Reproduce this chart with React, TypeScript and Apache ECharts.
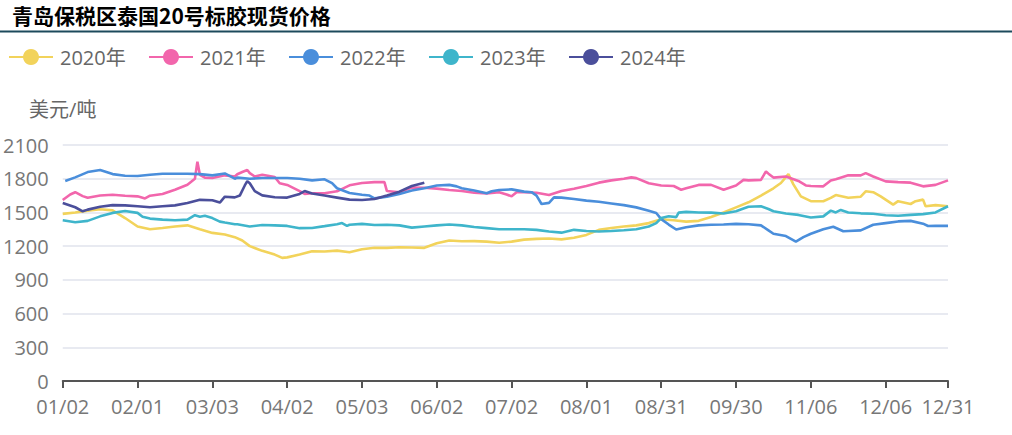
import React, { useEffect, useRef } from "react";
import * as echarts from "echarts";

const TITLE = "青岛保税区泰国20号标胶现货价格";
const Y_NAME = "美元/吨";
const seriesNames = ["2020年", "2021年", "2022年", "2023年", "2024年"];
const seriesColors = ["#F2D35B", "#F266AC", "#4A8EDB", "#3FB5CB", "#4B4F9B"];

const monthLengths = [31, 28, 31, 30, 31, 30, 31, 31, 30, 31, 30, 31];
const excludedDays = ["01/01", "05/01", "10/01", "10/02", "10/03", "10/04", "10/05", "10/06", "10/07"];
const labelEvery = 30;

const categories: string[] = [];
monthLengths.forEach((len, m) => {
  for (let d = 1; d <= len; d++) {
    const s = String(m + 1).padStart(2, "0") + "/" + String(d).padStart(2, "0");
    if (!excludedDays.includes(s)) categories.push(s);
  }
});

const s2020: [string, number][] = [
  ["01/02", 1487], ["01/07", 1499], ["01/12", 1516], ["01/17", 1528], ["01/22", 1518], ["01/27", 1450],
  ["02/01", 1375], ["02/06", 1350], ["02/11", 1362], ["02/16", 1375], ["02/21", 1385], ["02/26", 1350],
  ["03/03", 1318], ["03/08", 1303], ["03/12", 1280], ["03/15", 1250], ["03/18", 1200], ["03/23", 1158],
  ["03/28", 1125], ["03/31", 1096], ["04/02", 1100], ["04/07", 1125], ["04/12", 1155], ["04/17", 1152],
  ["04/22", 1160], ["04/27", 1145], ["05/03", 1172], ["05/08", 1185], ["05/13", 1185], ["05/18", 1190],
  ["05/23", 1188], ["05/28", 1185], ["06/02", 1225], ["06/07", 1250], ["06/12", 1244], ["06/17", 1245],
  ["06/22", 1240], ["06/27", 1230], ["07/02", 1240], ["07/07", 1258], ["07/12", 1265], ["07/17", 1268],
  ["07/22", 1260], ["07/27", 1275], ["08/01", 1300], ["08/06", 1345], ["08/11", 1362], ["08/16", 1375],
  ["08/21", 1385], ["08/26", 1405], ["08/31", 1440], ["09/05", 1430], ["09/10", 1418], ["09/15", 1425],
  ["09/20", 1460], ["09/25", 1500], ["09/30", 1545], ["10/12", 1590], ["10/17", 1650], ["10/22", 1715],
  ["10/25", 1762], ["10/28", 1841], ["10/30", 1750], ["11/02", 1643], ["11/06", 1600], ["11/11", 1600],
  ["11/14", 1629], ["11/16", 1655], ["11/21", 1630], ["11/26", 1640], ["11/28", 1688], ["12/01", 1680],
  ["12/04", 1643], ["12/09", 1569], ["12/11", 1600], ["12/16", 1575], ["12/18", 1600], ["12/21", 1614],
  ["12/22", 1555], ["12/26", 1565], ["12/31", 1555],
];

const s2021: [string, number][] = [
  ["01/02", 1610], ["01/05", 1660], ["01/07", 1680], ["01/10", 1645], ["01/12", 1630], ["01/17", 1650],
  ["01/22", 1658], ["01/27", 1649], ["02/01", 1643], ["02/04", 1625], ["02/06", 1649], ["02/11", 1664],
  ["02/16", 1702], ["02/21", 1747], ["02/24", 1800], ["02/25", 1952], ["02/26", 1835], ["02/28", 1810],
  ["03/03", 1806], ["03/08", 1830], ["03/12", 1820], ["03/13", 1840], ["03/15", 1860], ["03/17", 1878],
  ["03/18", 1850], ["03/20", 1820], ["03/23", 1835], ["03/28", 1815], ["03/30", 1760], ["04/02", 1745],
  ["04/07", 1690], ["04/09", 1665], ["04/12", 1670], ["04/17", 1670], ["04/22", 1688], ["04/27", 1741],
  ["05/03", 1762], ["05/08", 1770], ["05/12", 1770], ["05/13", 1690], ["05/18", 1680], ["05/23", 1722],
  ["05/28", 1720], ["06/02", 1712], ["06/07", 1700], ["06/12", 1690], ["06/17", 1675], ["06/22", 1668],
  ["06/27", 1680], ["06/30", 1660], ["07/02", 1643], ["07/04", 1680], ["07/07", 1680], ["07/12", 1675],
  ["07/17", 1655], ["07/22", 1690], ["07/27", 1710], ["08/01", 1735], ["08/06", 1765], ["08/11", 1785],
  ["08/16", 1800], ["08/19", 1812], ["08/21", 1805], ["08/26", 1760], ["08/31", 1740], ["09/05", 1735],
  ["09/08", 1702], ["09/10", 1715], ["09/15", 1745], ["09/20", 1745], ["09/25", 1702], ["09/30", 1740],
  ["10/10", 1790], ["10/12", 1785], ["10/17", 1790], ["10/19", 1865], ["10/20", 1845], ["10/22", 1810],
  ["10/27", 1820], ["11/01", 1780], ["11/04", 1740], ["11/06", 1735], ["11/11", 1732], ["11/14", 1785],
  ["11/16", 1795], ["11/21", 1830], ["11/26", 1830], ["11/28", 1850], ["12/01", 1820], ["12/06", 1776],
  ["12/11", 1770], ["12/16", 1765], ["12/21", 1732], ["12/26", 1745], ["12/31", 1785],
];

const s2022: [string, number][] = [
  ["01/03", 1780], ["01/07", 1812], ["01/12", 1859], ["01/17", 1877], ["01/22", 1841], ["01/27", 1827],
  ["02/01", 1824], ["02/06", 1835], ["02/11", 1844], ["02/16", 1844], ["02/21", 1844], ["02/26", 1841],
  ["03/03", 1830], ["03/08", 1847], ["03/12", 1800], ["03/13", 1810], ["03/18", 1800], ["03/23", 1806],
  ["03/28", 1806], ["04/02", 1806], ["04/07", 1800], ["04/12", 1785], ["04/17", 1795], ["04/20", 1760],
  ["04/22", 1715], ["04/27", 1673], ["05/03", 1658], ["05/06", 1650], ["05/08", 1625], ["05/13", 1640],
  ["05/18", 1665], ["05/23", 1695], ["05/28", 1715], ["06/02", 1740], ["06/07", 1745], ["06/10", 1732],
  ["06/12", 1715], ["06/17", 1695], ["06/22", 1670], ["06/24", 1688], ["06/27", 1700], ["07/02", 1705],
  ["07/07", 1685], ["07/10", 1680], ["07/12", 1650], ["07/14", 1575], ["07/17", 1585], ["07/19", 1634],
  ["07/22", 1632], ["07/27", 1620], ["08/01", 1605], ["08/06", 1595], ["08/11", 1580], ["08/16", 1565],
  ["08/21", 1545], ["08/26", 1515], ["08/29", 1495], ["08/31", 1440], ["09/03", 1392], ["09/06", 1348],
  ["09/10", 1368], ["09/15", 1385], ["09/20", 1390], ["09/25", 1392], ["09/30", 1398], ["10/12", 1395],
  ["10/17", 1385], ["10/20", 1340], ["10/22", 1310], ["10/27", 1290], ["10/31", 1240], ["11/03", 1280],
  ["11/06", 1310], ["11/11", 1350], ["11/15", 1373], ["11/19", 1333], ["11/21", 1335], ["11/26", 1340],
  ["12/01", 1390], ["12/06", 1405], ["12/11", 1420], ["12/16", 1425], ["12/21", 1400], ["12/23", 1379],
  ["12/26", 1380], ["12/31", 1380],
];

const s2023: [string, number][] = [
  ["01/02", 1430], ["01/07", 1413], ["01/12", 1425], ["01/17", 1465], ["01/22", 1496], ["01/27", 1512],
  ["02/01", 1496], ["02/03", 1462], ["02/06", 1445], ["02/11", 1436], ["02/16", 1430], ["02/21", 1436],
  ["02/24", 1475], ["02/26", 1462], ["02/28", 1470], ["03/03", 1450], ["03/06", 1418], ["03/08", 1410],
  ["03/12", 1395], ["03/13", 1395], ["03/18", 1375], ["03/23", 1388], ["03/28", 1385], ["04/02", 1380],
  ["04/07", 1360], ["04/12", 1362], ["04/17", 1378], ["04/22", 1395], ["04/24", 1405], ["04/26", 1380],
  ["04/27", 1390], ["05/03", 1398], ["05/08", 1388], ["05/13", 1390], ["05/18", 1385], ["05/23", 1365],
  ["05/28", 1375], ["06/02", 1385], ["06/07", 1392], ["06/12", 1385], ["06/17", 1370], ["06/22", 1360],
  ["06/27", 1350], ["07/02", 1350], ["07/07", 1350], ["07/12", 1345], ["07/17", 1330], ["07/22", 1320],
  ["07/27", 1345], ["08/01", 1335], ["08/06", 1330], ["08/11", 1335], ["08/16", 1342], ["08/21", 1350],
  ["08/26", 1375], ["08/29", 1405], ["08/31", 1450], ["09/03", 1466], ["09/06", 1458], ["09/07", 1498],
  ["09/10", 1505], ["09/15", 1500], ["09/20", 1498], ["09/25", 1490], ["09/30", 1510], ["10/10", 1535],
  ["10/12", 1550], ["10/17", 1555], ["10/20", 1530], ["10/22", 1510], ["10/27", 1490], ["11/01", 1478],
  ["11/06", 1455], ["11/11", 1465], ["11/14", 1516], ["11/16", 1500], ["11/18", 1522], ["11/21", 1500],
  ["11/26", 1492], ["12/01", 1488], ["12/06", 1475], ["12/11", 1470], ["12/16", 1478], ["12/21", 1485],
  ["12/26", 1500], ["12/31", 1555],
];

const s2024: [string, number][] = [
  ["01/02", 1584], ["01/07", 1546], ["01/10", 1510], ["01/12", 1525], ["01/17", 1550], ["01/22", 1565],
  ["01/27", 1563], ["02/01", 1555], ["02/06", 1546], ["02/11", 1555], ["02/16", 1563], ["02/21", 1584],
  ["02/26", 1612], ["03/03", 1608], ["03/06", 1588], ["03/08", 1640], ["03/12", 1634], ["03/14", 1650],
  ["03/16", 1740], ["03/17", 1778], ["03/18", 1760], ["03/20", 1690], ["03/23", 1652], ["03/28", 1635],
  ["04/02", 1632], ["04/07", 1665], ["04/09", 1690], ["04/12", 1668], ["04/17", 1650], ["04/22", 1632],
  ["04/27", 1614], ["05/03", 1610], ["05/08", 1620], ["05/13", 1650], ["05/18", 1685], ["05/23", 1735],
  ["05/28", 1765],
];

const seriesData = [s2020, s2021, s2022, s2023, s2024];

const FONT = "'Open Sans', 'Noto Sans CJK SC', sans-serif";

export default function App() {
  const ref = useRef<HTMLDivElement>(null);

  useEffect(() => {
    if (!ref.current) return;
    const chart = echarts.init(ref.current, undefined, { renderer: "svg" });
    const lastIdx = categories.length - 1;
    const showAt = (idx: number) => idx % labelEvery === 0 || idx === lastIdx;

    chart.setOption({
      animation: false,
      backgroundColor: "#fff",
      title: {
        text: TITLE,
        left: 12,
        top: 4,
        padding: 0,
        textStyle: {
          fontSize: 21,
          fontWeight: "bold",
          color: "#000",
          fontFamily: "'Noto Sans CJK SC', sans-serif",
        },
      },
      graphic: [
        {
          type: "line",
          shape: { x1: 0, y1: 31.5, x2: 1012, y2: 31.5 },
          style: { stroke: "#1c4a5c", lineWidth: 2 },
        },
      ],
      legend: seriesNames.map((n, k) => ({
        data: [n],
        left: 8 + 140 * k,
        top: 47,
        itemWidth: 44,
        itemHeight: 20,
        padding: 0,
        textStyle: { fontSize: 20, color: "#666", fontFamily: FONT, padding: [0, 0, 0, 2] },
      })),
      grid: { left: 61, right: 64, top: 145, bottom: 54 },
      xAxis: {
        type: "category",
        data: categories,
        boundaryGap: false,
        axisLine: { lineStyle: { color: "#555", width: 2 } },
        axisTick: { show: true, interval: (i: number) => showAt(i), length: 7, lineStyle: { color: "#555", width: 2 } },
        axisLabel: {
          interval: (i: number) => showAt(i),
          fontSize: 20,
          color: "#777",
          fontFamily: FONT,
          margin: 15,
        },
        splitLine: { show: false },
      },
      yAxis: {
        type: "value",
        min: 0,
        max: 2100,
        interval: 300,
        name: Y_NAME,
        nameLocation: "end",
        nameGap: 26,
        nameTextStyle: { fontSize: 20, color: "#666", fontFamily: FONT, align: "center" },
        axisLine: { show: false },
        axisTick: { show: false },
        axisLabel: {
          fontSize: 20,
          lineHeight: 20,
          color: "#777",
          fontFamily: FONT,
          margin: 14,
          formatter: (v: number) => String(v),
        },
        splitLine: { lineStyle: { color: "#E0E3EC", width: 1.5 } },
      },
      series: seriesNames.map((n, k) => ({
        name: n,
        type: "line",
        data: seriesData[k],
        showSymbol: false,
        symbol: "circle",
        symbolSize: 16,
        color: seriesColors[k],
        lineStyle: { width: 2.6, color: seriesColors[k] },
      })),
    });

    return () => chart.dispose();
  }, []);

  return (
    <div
      ref={ref}
      style={{ position: "absolute", left: 0, top: 0, width: 1012, height: 435 }}
    />
  );
}
